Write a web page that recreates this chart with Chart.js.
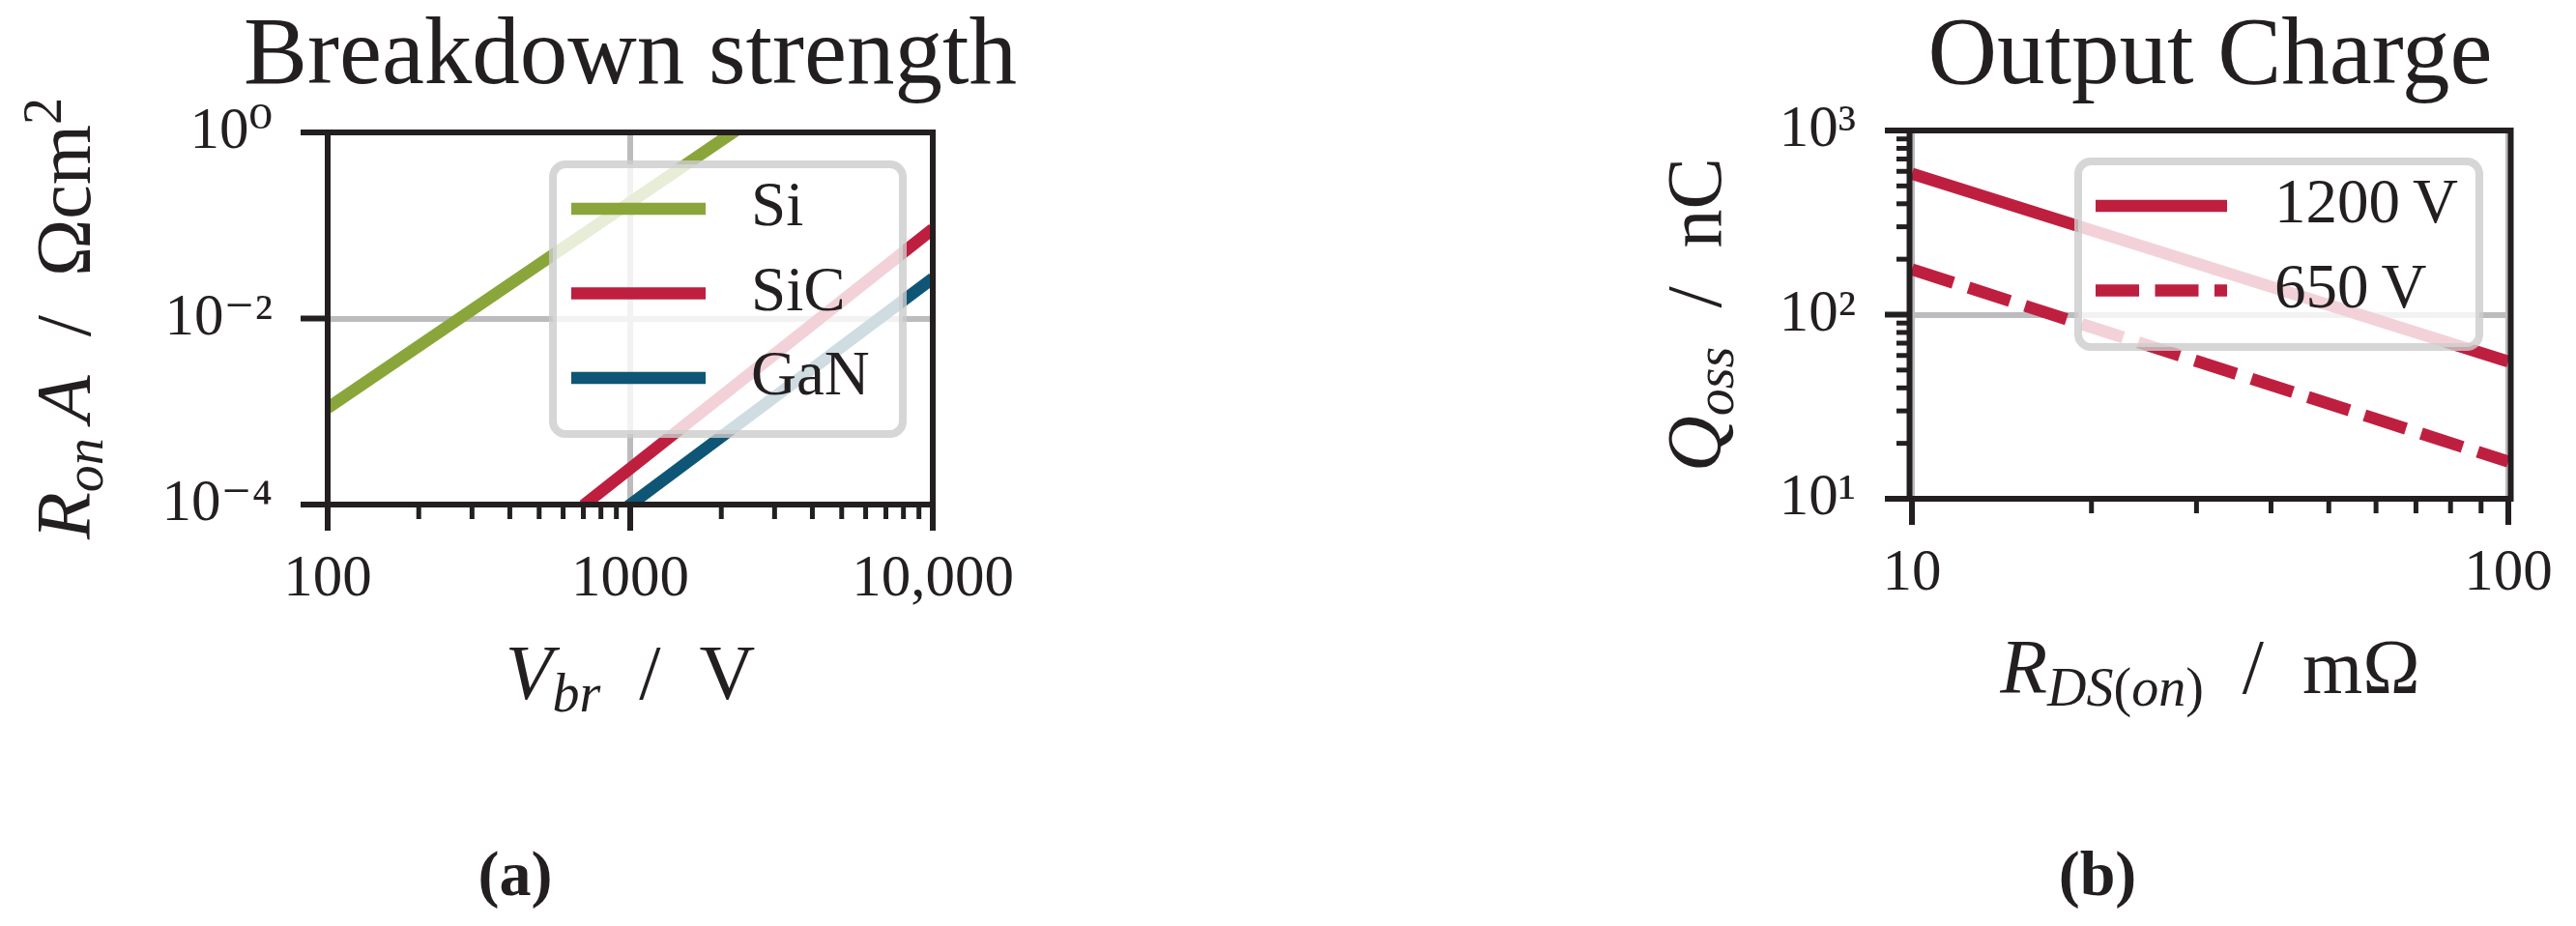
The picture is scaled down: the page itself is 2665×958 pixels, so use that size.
<!DOCTYPE html>
<html>
<head>
<meta charset="utf-8">
<script src="https://cdn.jsdelivr.net/npm/chart.js@4.4.1/dist/chart.umd.min.js"></script>
<style>
  html, body { margin: 0; padding: 0; background: #fff; }
  #fig { position: relative; width: 2665px; height: 958px; overflow: hidden; background: #fff; }
  #fig canvas { position: absolute; top: 0; }
  .cap { position: absolute; top: 904px; transform: translate(-50%, -50%);
         font: bold 66px 'Liberation Serif', 'DejaVu Serif', serif; color: #231f20; white-space: nowrap; }
</style>
</head>
<body>
<div id="fig">
  <canvas id="chartA" width="1304" height="800" style="left:0"></canvas>
  <canvas id="chartB" width="1173" height="800" style="left:1700px"></canvas>
  <div class="cap" style="left:533px">(a)</div>
  <div class="cap" style="left:2170px">(b)</div>
</div>
<script>
/* ---------- data: (a) breakdown strength ---------- */
const vbrSi = [100, 1000, 2300];
const ronSi = [1.09e-3, 0.177, 1.12];
const vbrSiC = [700, 1000, 10000];
const ronSiC = [9.8e-5, 2.45e-4, 0.0914];
const vbrGaN = [950, 3000, 10000];
const ronGaN = [8.8e-5, 1.43e-3, 0.027];
const materials = ['Si', 'SiC', 'GaN'];
const materialColors = ['#8aa63b', '#bf1f3f', '#0f5676'];

const vbrTicks = [100, 1000, 10000];
const vbrTickLabels = ['100', '1000', '10,000'];
const vbrMinorTicks = [200, 300, 400, 500, 600, 700, 800, 900, 2000, 3000, 4000, 5000, 6000, 7000, 8000, 9000];
const ronTicks = [1e-4, 1e-2, 1];
const ronTickLabels = ['10⁻⁴', '10⁻²', '10⁰'];

/* ---------- data: (b) output charge ---------- */
const rdsOn = [10, 30, 100];
const qoss1200 = [582, 190, 55.6];
const qoss650 = [176, 56, 15.9];
const voltageClasses = ['1200\u2009V', '650\u2009V'];
const voltageColor = '#bf1f3f';

const rdsTicks = [10, 100];
const rdsTickLabels = ['10', '100'];
const rdsMinorTicks = [20, 30, 40, 50, 60, 70, 80, 90];
const qossTicks = [10, 100, 1000];
const qossTickLabels = ['10¹', '10²', '10³'];
const qossMinorTicks = [20, 30, 40, 50, 60, 70, 80, 90, 200, 300, 400, 500, 600, 700, 800, 900];

/* ---------- look ---------- */
const FONT = "'Liberation Serif', 'DejaVu Serif', serif";
const INK = '#231f20';
const GRID = '#bcbcbe';
const LINE_W = 12.5;
const DASH = [45, 16.5];

Chart.defaults.font.family = FONT;
Chart.defaults.color = INK;

function xy(xs, ys) {
  return xs.map((x, i) => ({ x, y: ys[i] }));
}

// log axis with our own major/minor tick list; labels only on majors
function logAxis(min, max, major, labels, minor, opt) {
  return {
    type: 'logarithmic',
    min, max,
    afterBuildTicks: (s) => {
      s.ticks = major.map((v) => ({ value: v, major: true }))
        .concat(minor.map((v) => ({ value: v, major: false })))
        .sort((p, q) => p.value - q.value);
    },
    afterFit: (s) => {
      if (opt.width) s.width = opt.width;
      if (opt.height) s.height = opt.height;
    },
    ticks: {
      autoSkip: false, maxRotation: 0, minRotation: 0,
      padding: opt.pad, color: INK,
      font: { family: FONT, size: 61 },
      callback: (v) => {
        const i = major.indexOf(v);
        return i < 0 ? '' : labels[i];
      },
    },
    grid: {
      drawTicks: false,
      lineWidth: 6,
      color: (c) => (c.tick && c.tick.major ? GRID : 'rgba(0,0,0,0)'),
    },
    border: { display: false },
  };
}

// empty right-hand box, keeps the plot area centred in the canvas so the title centres over it
function spacerAxis(width) {
  return {
    type: 'linear',
    position: 'right',
    display: true,
    grid: { display: false, drawTicks: false },
    ticks: { display: false },
    border: { display: false },
    afterFit: (s) => { s.width = width; },
  };
}

/* rich text: parts = [{t, it, sub, sup}] drawn centred at (x, y) baseline */
function drawRich(ctx, parts, x, y, size, angle) {
  const fontOf = (p) => `${p.it ? 'italic ' : ''}${p.sub || p.sup ? size * 0.7 : size}px ${FONT}`;
  let w = 0;
  parts.forEach((p) => { ctx.font = fontOf(p); w += ctx.measureText(p.t).width; });
  ctx.save();
  ctx.translate(x, y);
  ctx.rotate(angle);
  ctx.fillStyle = INK;
  ctx.textBaseline = 'alphabetic';
  ctx.textAlign = 'left';
  let cx = -w / 2;
  parts.forEach((p) => {
    ctx.font = fontOf(p);
    const dy = p.sub ? size * 0.16 : p.sup ? -size * 0.38 : 0;
    ctx.fillText(p.t, cx, dy);
    cx += ctx.measureText(p.t).width;
  });
  ctx.restore();
}

function roundRect(ctx, x, y, w, h, r) {
  ctx.beginPath();
  ctx.moveTo(x + r, y);
  ctx.arcTo(x + w, y, x + w, y + h, r);
  ctx.arcTo(x + w, y + h, x, y + h, r);
  ctx.arcTo(x, y + h, x, y, r);
  ctx.arcTo(x, y, x + w, y, r);
  ctx.closePath();
}

/* frame, tick marks, legend and axis titles */
function makeDecor(cfg) {
  return {
    id: 'decor',
    afterDatasetsDraw(chart) {
      const { ctx, chartArea: a } = chart;
      ctx.save();

      // tick marks (outward, major longer)
      ctx.strokeStyle = INK;
      chart.scales.x.ticks.forEach((t) => {
        const p = chart.scales.x.getPixelForValue(t.value);
        ctx.lineWidth = t.major ? 6 : 5;
        ctx.beginPath();
        ctx.moveTo(p, a.bottom);
        ctx.lineTo(p, a.bottom + (t.major ? 27 : 15));
        ctx.stroke();
      });
      chart.scales.y.ticks.forEach((t) => {
        const p = chart.scales.y.getPixelForValue(t.value);
        ctx.lineWidth = t.major ? 6 : 5;
        ctx.beginPath();
        ctx.moveTo(a.left, p);
        ctx.lineTo(a.left - (t.major ? 28 : 16), p);
        ctx.stroke();
      });

      // axes box
      const ex = cfg.frameOut || 0;
      ctx.lineWidth = 6;
      ctx.strokeRect(a.left - ex, a.top, a.right - a.left + 2 * ex, a.bottom - a.top);

      // legend
      const L = cfg.legend;
      const bx = a.right - L.inset - L.w;
      const by = a.top + L.top;
      roundRect(ctx, bx, by, L.w, L.h, 13);
      ctx.fillStyle = 'rgba(255,255,255,0.8)';
      ctx.fill();
      ctx.lineWidth = 8;
      ctx.strokeStyle = 'rgba(204,204,204,0.8)';
      ctx.stroke();
      L.items.forEach((it, i) => {
        const y = by + L.row0 + i * L.gap;
        ctx.strokeStyle = it.color;
        ctx.lineWidth = LINE_W;
        ctx.lineCap = 'butt';
        ctx.setLineDash(it.dash || []);
        ctx.beginPath();
        ctx.moveTo(bx + L.lineX, y);
        ctx.lineTo(bx + L.lineX + L.lineLen, y);
        ctx.stroke();
        ctx.setLineDash([]);
        ctx.fillStyle = INK;
        ctx.font = `65px ${FONT}`;
        ctx.textAlign = 'left';
        ctx.textBaseline = 'middle';
        ctx.fillText(it.label, bx + L.textX, y);
      });

      // axis titles
      drawRich(ctx, cfg.xTitle, (a.left + a.right) / 2, a.bottom + 201, 80, 0);
      drawRich(ctx, cfg.yTitle, a.left - cfg.yTitleGap, (a.top + a.bottom) / 2, 80, -Math.PI / 2);

      ctx.restore();
    },
  };
}

function lineSet(label, data, color, dash) {
  return {
    label, data,
    borderColor: color,
    borderWidth: LINE_W,
    borderDash: dash || [],
    borderCapStyle: 'butt',
    pointRadius: 0,
    fill: false,
    tension: 0,
    clip: 0,
  };
}

function baseOptions(title, titlePadBottom, scales) {
  return {
    responsive: false,
    animation: false,
    devicePixelRatio: 1,
    events: [],
    layout: { padding: 0 },
    plugins: {
      legend: { display: false },
      tooltip: { enabled: false },
      title: {
        display: true, text: title, color: INK,
        font: { family: FONT, size: 99, weight: 'normal', lineHeight: 1 },
        padding: { top: 10, bottom: titlePadBottom },
      },
    },
    scales,
  };
}

/* ---------- (a) ---------- */
new Chart(document.getElementById('chartA'), {
  type: 'line',
  data: {
    datasets: [
      lineSet(materials[0], xy(vbrSi, ronSi), materialColors[0]),
      lineSet(materials[1], xy(vbrSiC, ronSiC), materialColors[1]),
      lineSet(materials[2], xy(vbrGaN, ronGaN), materialColors[2]),
    ],
  },
  options: baseOptions('Breakdown strength', 28, {
    x: logAxis(100, 10000, vbrTicks, vbrTickLabels, vbrMinorTicks, { height: 278, pad: 41 }),
    y: logAxis(1e-4, 1, ronTicks, ronTickLabels, [], { width: 339, pad: 57 }),
    yR: spacerAxis(339),
  }),
  plugins: [makeDecor({
    legend: {
      inset: 31, top: 33, w: 362, h: 279, lineX: 19, lineLen: 139, textX: 205, row0: 46, gap: 87.5,
      items: materials.map((m, i) => ({ label: m, color: materialColors[i] })),
    },
    xTitle: [{ t: 'V', it: true }, { t: 'br', it: true, sub: true }, { t: '\u2002/\u2002V' }],
    yTitle: [{ t: 'R', it: true }, { t: 'on', it: true, sub: true }, { t: '\u2009A', it: true },
             { t: '\u2002/\u2002Ωcm' }, { t: '2', sup: true }],
    yTitleGap: 246,
  })],
});

/* ---------- (b) ---------- */
new Chart(document.getElementById('chartB'), {
  type: 'line',
  data: {
    datasets: [
      lineSet(voltageClasses[0], xy(rdsOn, qoss1200), voltageColor),
      lineSet(voltageClasses[1], xy(rdsOn, qoss650), voltageColor, DASH),
    ],
  },
  options: baseOptions('Output Charge', 26, {
    x: logAxis(10, 100, rdsTicks, rdsTickLabels, rdsMinorTicks, { height: 284, pad: 41 }),
    y: logAxis(10, 1000, qossTicks, qossTickLabels, qossMinorTicks, { width: 278, pad: 58 }),
    yR: spacerAxis(278),
  }),
  plugins: [makeDecor({
    frameOut: 2.5,
    legend: {
      inset: 30, top: 32, w: 415, h: 192, lineX: 18, lineLen: 136, textX: 203, row0: 46, gap: 87.5,
      items: [
        { label: voltageClasses[0], color: voltageColor },
        { label: voltageClasses[1], color: voltageColor, dash: DASH },
      ],
    },
    xTitle: [{ t: 'R', it: true }, { t: 'DS', it: true, sub: true }, { t: '(', sub: true },
             { t: 'on', it: true, sub: true }, { t: ')', sub: true }, { t: '\u2002/\u2002mΩ' }],
    yTitle: [{ t: 'Q', it: true }, { t: 'oss', it: true, sub: true }, { t: '\u2002/\u2002nC' }],
    yTitleGap: 198,
  })],
});
</script>
</body>
</html>
